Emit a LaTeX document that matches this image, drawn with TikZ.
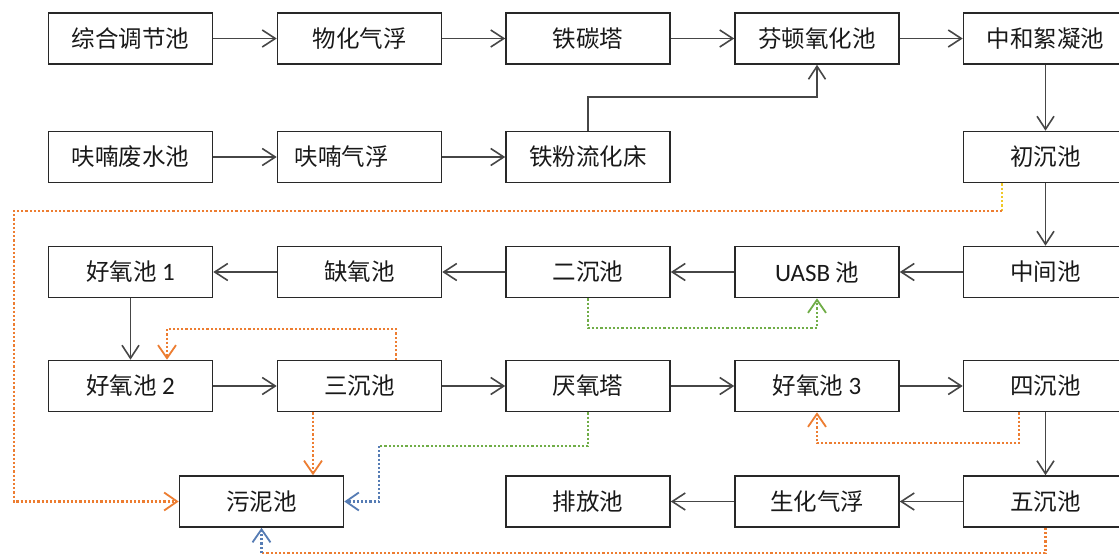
\documentclass[tikz,border=0pt]{standalone}
\usepackage{fontspec}
\setmainfont{Noto Sans CJK SC}
\newfontfamily\lat{Carlito}
\usetikzlibrary{arrows.meta}
\definecolor{boxline}{RGB}{40,40,40}
\definecolor{arrline}{RGB}{70,70,70}
\definecolor{txt}{RGB}{25,25,25}
\definecolor{orng}{RGB}{237,125,49}
\definecolor{gold}{RGB}{240,200,40}
\definecolor{grn}{RGB}{112,173,71}
\definecolor{blu}{RGB}{86,124,180}
\newcommand{\latn}[1]{{\lat\fontsize{25}{26}\selectfont #1}}
\tikzset{
  stage/.style={draw=boxline, line width=1.6pt, minimum width=164pt, minimum height=51pt,
    inner sep=0pt, text=txt, font=\fontsize{23.5}{26}\selectfont},
  flow/.style={draw=arrline, line width=1.6pt, -{Straight Barb[length=13pt,width=17pt,line width=1.6pt]}},
  dotline/.style={line width=2.2pt, dash pattern=on 2.2pt off 2pt},
  dotarrow/.style={dotline, -{Straight Barb[length=13pt,width=18pt,line width=1.8pt]}},
}
\begin{document}
\begin{tikzpicture}[x=1pt,y=-1pt]
\useasboundingbox[fill=white] (0,0) rectangle (1119,555);
% row 1
\node[stage] (a1) at (130.5,38.5) {综合调节池};
\node[stage] (a2) at (359.5,38.5) {物化气浮};
\node[stage] (a3) at (588,38.5) {铁碳塔};
\node[stage] (a4) at (817,38.5) {芬顿氧化池};
\node[stage] (a5) at (1045.5,38.5) {中和絮凝池};
% row 2
\node[stage] (b1) at (130.5,157) {呋喃废水池};
\node[stage, text width=164pt, align=left] (b2) at (359.5,157) {\hspace*{17pt}呋喃气浮};
\node[stage] (b3) at (588,157) {铁粉流化床};
\node[stage] (b5) at (1045.5,157) {初沉池};
% row 3
\node[stage] (c1) at (130.5,272) {好氧池 \latn{1}};
\node[stage] (c2) at (359.5,272) {缺氧池};
\node[stage] (c3) at (588,272) {二沉池};
\node[stage] (c4) at (817,272) {\latn{UASB} 池};
\node[stage] (c5) at (1045.5,272) {中间池};
% row 4
\node[stage] (d1) at (130.5,386) {好氧池 \latn{2}};
\node[stage] (d2) at (359.5,386) {三沉池};
\node[stage] (d3) at (588,386) {厌氧塔};
\node[stage] (d4) at (817,386) {好氧池 \latn{3}};
\node[stage] (d5) at (1045.5,386) {四沉池};
% row 5
\node[stage] (s) at (261.5,501.5) {污泥池};
\node[stage] (e3) at (588,501.5) {排放池};
\node[stage] (e4) at (817,501.5) {生化气浮};
\node[stage] (e5) at (1045.5,501.5) {五沉池};

% main flow
\draw[flow] (a1) -- (a2);
\draw[flow] (a2) -- (a3);
\draw[flow] (a3) -- (a4);
\draw[flow] (a4) -- (a5);
\draw[flow] (b1) -- (b2);
\draw[flow] (b2) -- (b3);
\draw[flow] (b3.north) -- (b3.north |- 0,97) -| (a4.south);
\draw[flow] (a5) -- (b5);
\draw[flow] (b5) -- (c5);
\draw[flow] (c5) -- (c4);
\draw[flow] (c4) -- (c3);
\draw[flow] (c3) -- (c2);
\draw[flow] (c2) -- (c1);
\draw[flow] (c1) -- (d1);
\draw[flow] (d1) -- (d2);
\draw[flow] (d2) -- (d3);
\draw[flow] (d3) -- (d4);
\draw[flow] (d4) -- (d5);
\draw[flow] (d5) -- (e5);
\draw[flow] (e5) -- (e4);
\draw[flow] (e4) -- (e3);

% sludge / return lines
\coordinate (y1) at (1002,211);
\draw[dotline, draw=gold] (b5.south -| y1) -- (y1);
\draw[dotarrow, draw=orng] (y1) -- (14,211) |- (s.west);
\draw[dotarrow, draw=grn] (c3.south) -- (c3.south |- 0,328) -| (c4.south);
\draw[dotarrow, draw=orng] ([xshift=36.5pt]d2.north) -- ++(0,-31) -| ([xshift=36.5pt]d1.north);
\draw[dotarrow, draw=orng] ([xshift=-46.5pt]d2.south) -- ([xshift=51.5pt]s.north);
\coordinate (g1) at (379,446);
\draw[dotline, draw=grn] (d3.south) -- (d3.south |- g1) -- (g1);
\draw[dotarrow, draw=blu] (g1) |- (s.east);
\draw[dotarrow, draw=orng] ([xshift=-26.5pt]d5.south) -- ++(0,31) -| (d4.south);
\coordinate (g2) at (261.5,553);
\draw[dotline, draw=orng] (e5.south) |- (g2);
\draw[dotarrow, draw=blu] (g2) -- (s.south);
\end{tikzpicture}
\end{document}
